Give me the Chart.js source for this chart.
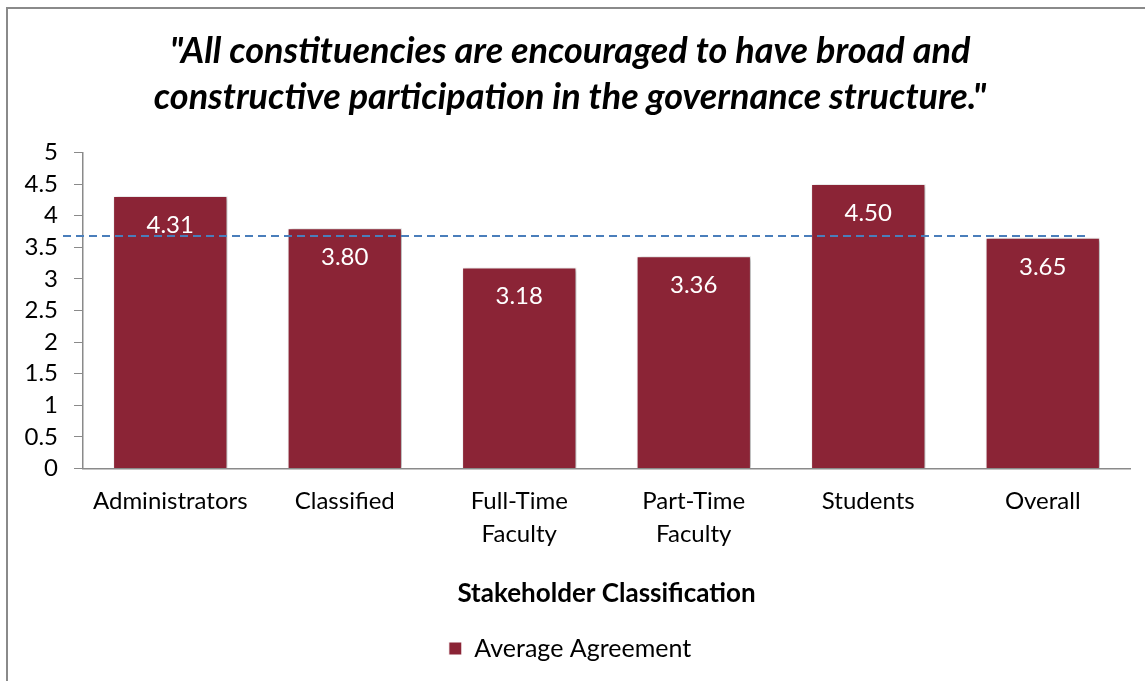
<!DOCTYPE html>
<html>
<head>
<meta charset="utf-8">
<script src="https://cdn.jsdelivr.net/npm/chart.js@4"></script>
<style>
    html, body { margin: 0; padding: 0; background: #fff; }
    #wrap { position: relative; width: 1145px; height: 681px; }
</style>
</head>
<body>
<div id="wrap"><canvas id="barChart"></canvas></div>
<script>
// Andmed
const categories = [['Administrators'], ['Classified'], ['Full-Time', 'Faculty'], ['Part-Time', 'Faculty'], ['Students'], ['Overall']];
const averageAgreement = [4.31, 3.80, 3.18, 3.36, 4.50, 3.65];
const referenceLine = 3.68; // katkendjoon
const yTicks = [0, 0.5, 1, 1.5, 2, 2.5, 3, 3.5, 4, 4.5, 5];

const barColor = '#8B2436';
const fontName = 'Lato, "Open Sans", sans-serif';

// raam vasakul ja ülal
const framePlugin = {
    id: 'frame',
    beforeDraw(chart) {
        const ctx = chart.ctx;
        ctx.save();
        ctx.fillStyle = '#fff';
        ctx.fillRect(0, 0, chart.width, chart.height);
        ctx.strokeStyle = '#8a8a8a';
        ctx.lineWidth = 2;
        ctx.beginPath();
        ctx.moveTo(7, chart.height);
        ctx.lineTo(7, 8);
        ctx.lineTo(chart.width, 8);
        ctx.stroke();
        ctx.restore();
    }
};

// vari tulpade taha
const shadowPlugin = {
    id: 'barShadow',
    beforeDatasetDraw(chart) {
        const ctx = chart.ctx;
        ctx.save();
        ctx.shadowColor = 'rgba(0,0,0,0.35)';
        ctx.shadowBlur = 4;
        ctx.shadowOffsetX = 2;
        ctx.shadowOffsetY = 1;
    },
    afterDatasetDraw(chart) {
        chart.ctx.restore();
    }
};

// väärtused tulpade sees + katkendjoon
const labelPlugin = {
    id: 'valueLabels',
    afterDatasetsDraw(chart) {
        const ctx = chart.ctx;
        const meta = chart.getDatasetMeta(0);
        ctx.save();
        ctx.fillStyle = '#fff';
        ctx.font = '24px ' + fontName;
        ctx.textAlign = 'center';
        ctx.textBaseline = 'middle';
        meta.data.forEach((bar, i) => {
            ctx.fillText(averageAgreement[i].toFixed(2), bar.x, bar.y + 29);
        });

        const y = chart.scales.y.getPixelForValue(referenceLine);
        ctx.strokeStyle = '#4A7EBB';
        ctx.lineWidth = 2;
        ctx.setLineDash([8, 5]);
        ctx.beginPath();
        ctx.moveTo(chart.chartArea.left - 20, y);
        ctx.lineTo(chart.chartArea.right - 40, y);
        ctx.stroke();
        ctx.restore();
    }
};

const ctx = document.getElementById('barChart').getContext('2d');
new Chart(ctx, {
    type: 'bar',
    data: {
        labels: categories,
        datasets: [{
            label: 'Average Agreement',
            data: averageAgreement,
            backgroundColor: barColor,
            borderColor: '#ffffff',
            borderWidth: 1,
            categoryPercentage: 1.0,
            barPercentage: 0.655,
        }],
    },
    options: {
        responsive: true,
        maintainAspectRatio: false,
        animation: false,
        devicePixelRatio: 1,
        layout: {
            padding: { left: 10, right: 15, top: 29, bottom: 10 }
        },
        scales: {
            x: {
                grid: { display: false, drawTicks: false },
                border: { color: '#8a8a8a', width: 1.5 },
                ticks: {
                    color: '#000',
                    font: { family: fontName, size: 24, lineHeight: 1.38 },
                    padding: 16,
                    maxRotation: 0,
                },
                title: {
                    display: true,
                    text: 'Stakeholder Classification',
                    color: '#000',
                    font: { family: fontName, size: 26, weight: 'bold' },
                    padding: { top: 11, bottom: 17 },
                },
            },
            y: {
                min: 0,
                max: 5,
                afterBuildTicks(scale) {
                    scale.ticks = yTicks.map(v => ({ value: v }));
                },
                afterFit(scale) {
                    scale.width = 73;
                },
                grid: {
                    drawOnChartArea: false,
                    tickLength: 9,
                    color: '#8a8a8a',
                },
                border: { color: '#8a8a8a', width: 1.5 },
                ticks: {
                    color: '#000',
                    font: { family: fontName, size: 24 },
                    padding: 16,
                    autoSkip: false,
                    callback: v => String(v),
                },
            },
        },
        plugins: {
            title: {
                display: true,
                text: ['"All constituencies are encouraged to have broad and', 'constructive participation in the governance structure."'],
                color: '#000',
                font: { family: fontName, size: 36, weight: 'bold', style: 'italic', lineHeight: 1.27 },
                padding: { top: 0, bottom: 32 },
            },
            legend: {
                position: 'bottom',
                labels: {
                    color: '#000',
                    boxWidth: 13,
                    boxHeight: 13,
                    font: { family: fontName, size: 25 },
                },
            },
            tooltip: { enabled: false },
        },
    },
    plugins: [framePlugin, shadowPlugin, labelPlugin],
});
</script>
</body>
</html>
